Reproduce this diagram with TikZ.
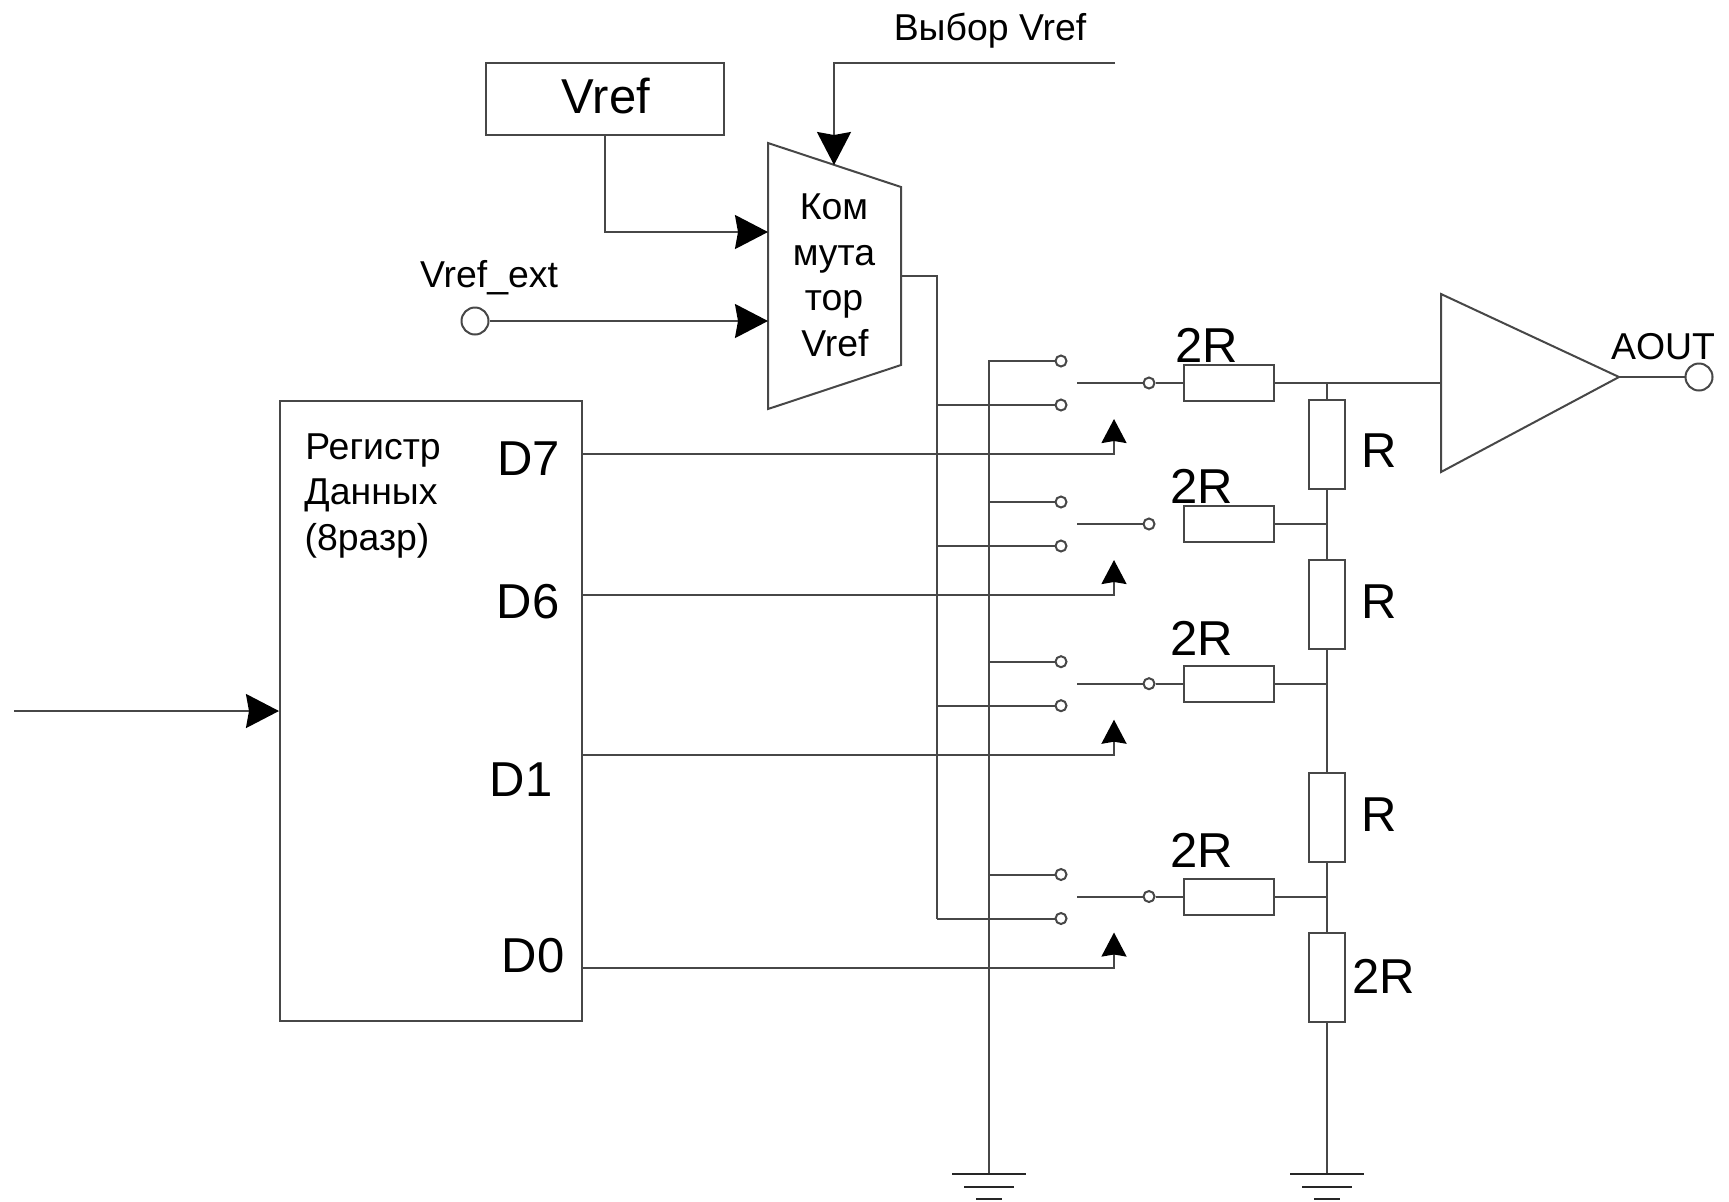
\documentclass[tikz,border=0pt]{standalone}
\usepackage{fontspec}
\setmainfont{Liberation Sans}
\usetikzlibrary{arrows.meta}
\tikzset{
  wire/.style={draw=black!72,line width=1pt},
  bigarrow/.style={wire,-{Stealth[length=16.5pt,width=17pt,inset=1.5pt,color=black]}},
  smallarrow/.style={wire,-{Stealth[length=12pt,width=12.5pt,inset=1pt,color=black]}},
  box/.style={draw=black!72,line width=1pt,inner sep=0pt},
  resh/.style={box,minimum width=45pt,minimum height=18pt},
  resv/.style={box,minimum width=18pt,minimum height=44.5pt},
  contact/.style={circle,draw=black!72,line width=1pt,inner sep=0pt,minimum size=5.5pt},
  terminal/.style={circle,draw=black!72,line width=1pt,inner sep=0pt,minimum size=13.5pt},
  small/.style={inner sep=0pt,font=\fontsize{18.7}{22}\selectfont},
  large/.style={inner sep=0pt,font=\fontsize{24.5}{28}\selectfont},
}
\begin{document}
\begin{tikzpicture}[x=0.5pt,y=-0.5pt]
\useasboundingbox (0,0) rectangle (1729,1201);

% Vref block and multiplexer
\node[box,minimum width=119pt,minimum height=36pt,large] (vref) at (605,99) {};
\node[large] (vreft) at (606,96) {Vref};
\draw[wire] (768,143) coordinate (m1) -- (901,187) coordinate (m2) -- (901,365) coordinate (m3) -- (768,409) coordinate (m4) -- cycle;
\node[small,anchor=base] (k1) at (834,219.5) {Ком};
\node[small,anchor=base] (k2) at (834,265) {мута};
\node[small,anchor=base] (k3) at (834,310.5) {тор};
\node[small,anchor=base] (k4) at (835,356) {Vref};
\coordinate (msel) at (834,165);
\coordinate (min1) at (768,232);
\coordinate (min2) at (768,321);
\coordinate (mout) at (901,276);
\coordinate (selend) at (1115,63);
\node[small] (selt) at (990,31) {Выбор Vref};
\draw[bigarrow] (selend) -| (msel);
\draw[bigarrow] (vref.south) |- (min1);
\node[terminal] (ext) at (475,321) {};
\node[small] (extt) at (489,278) {Vref\_ext};
\draw[bigarrow] (ext) -- (min2);

% Data register
\node[box,minimum width=151pt,minimum height=310pt] (reg) at (431,711) {};
\node[small] (rt1) at (373,451) {Регистр};
\node[small] (rt2) at (371,495) {Данных};
\node[small] (rt3) at (367,541) {(8разр)};
\node[large] (d7t) at (528.5,459) {D7};
\node[large] (d6t) at (528,602) {D6};
\node[large] (d1t) at (521,780) {D1};
\node[large] (d0t) at (533,956) {D0};
\coordinate (inp) at (14,711);
\draw[bigarrow] (inp) -- (reg.west);

% Switches and 2R resistors
\foreach \n/\p in {7/383,6/524,1/683.7,0/896.5}{
  \node[contact] (ca\n) at (1061,{\p-22}) {};
  \node[contact] (cb\n) at (1061,{\p+22}) {};
  \node[contact] (pv\n) at (1149,\p) {};
  \coordinate (sw\n) at (1077,\p);
  \draw[wire] (sw\n) -- (pv\n);
  \node[resh] (rh\n) at (1229,\p) {};
  \coordinate (bs\n) at (582,{\p+71});
  \coordinate (tip\n) at (1114,{\p+36});
  \draw[smallarrow] (bs\n) -| (tip\n);
}
\node[large] (l7) at (1207,345) {2R};
\node[large] (l6) at (1202,486) {2R};
\node[large] (l1) at (1202,638) {2R};
\node[large] (l0) at (1202,850) {2R};
\draw[wire] (pv7) -- (rh7);
\draw[wire] (pv1) -- (rh1);
\draw[wire] (pv0) -- (rh0);

% Vertical resistor ladder
\node[resv] (r1) at (1327,444.5) {};
\node[resv] (r2) at (1327,604) {};
\node[resv] (r3) at (1327,817) {};
\node[resv] (r4) at (1327,977) {};
\node[large] (t1) at (1379.5,451) {R};
\node[large] (t2) at (1379.5,602) {R};
\node[large] (t3) at (1379.5,815) {R};
\node[large] (t4) at (1384,976) {2R};
\coordinate (gr) at (1327,1174);
\coordinate (j7) at (1327,383);
\draw[wire] (j7) -- (r1);
\draw[wire] (r1) -- (r2);
\draw[wire] (r2) -- (r3);
\draw[wire] (r3) -- (r4);
\draw[wire] (r4) -- (gr);
\draw[wire] (rh6) -- (rh6 -| r1);
\draw[wire] (rh1) -- (rh1 -| r1);
\draw[wire] (rh0) -- (rh0 -| r1);

% Amplifier and output
\draw[wire] (1441,294) coordinate (a1) -- (1619,377) coordinate (a2) -- (1441,472) coordinate (a3) -- cycle;
\coordinate (ain) at (1441,383);
\draw[wire] (rh7) -- (ain);
\node[terminal] (aout) at (1699,377) {};
\node[small] (aoutt) at (1663,347) {AOUT};
\draw[wire] (a2) -- (aout);

% Reference buses
\coordinate (gl) at (989,1174);
\coordinate (busa) at (937,276);
\coordinate (busaend) at (937,918.5);
\draw[wire] (mout) -- (busa) -- (busaend);
\draw[wire] (gl) |- (ca7);
\draw[wire] (gl |- ca6) -- (ca6);
\draw[wire] (gl |- ca1) -- (ca1);
\draw[wire] (gl |- ca0) -- (ca0);
\draw[wire] (busa |- cb7) -- (cb7);
\draw[wire] (busa |- cb6) -- (cb6);
\draw[wire] (busa |- cb1) -- (cb1);
\draw[wire] (busaend) -- (cb0);

% Grounds
\foreach \g in {gl,gr}{
  \draw[wire,draw=black!85] ([xshift=-18.5pt]\g) -- ([xshift=18.5pt]\g);
  \draw[wire,draw=black!85] ([xshift=-12.5pt,yshift=-6.5pt]\g) -- ([xshift=12.5pt,yshift=-6.5pt]\g);
  \draw[wire,draw=black!85] ([xshift=-6.5pt,yshift=-12.5pt]\g) -- ([xshift=6.5pt,yshift=-12.5pt]\g);
}
\end{tikzpicture}
\end{document}
